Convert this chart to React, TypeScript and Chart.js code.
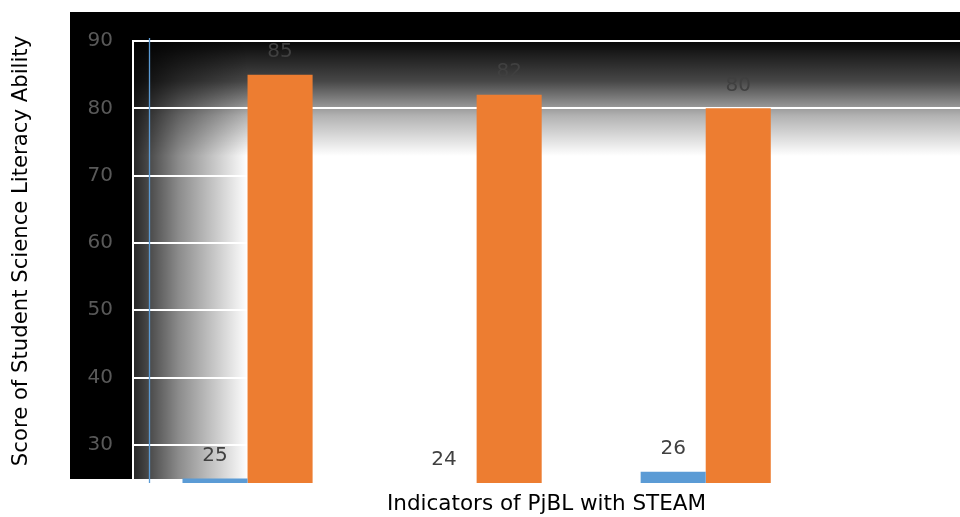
import React, { useEffect, useRef } from "react";
import { Chart, registerables } from "chart.js";

Chart.register(...registerables);

const categories = ["Indicator 1", "Indicator 2", "Indicator 3"];
const seriesA = [25, 24, 26];
const seriesB = [85, 82, 80];
const yTicks = [30, 40, 50, 60, 70, 80, 90];
const xSlots = [1, 2, 3, 4];
const yMin = 24.33;
const yMax = 90;
const xMin = 0.5;
const xMax = 4.11;
const markerX = 0.57;
const yTitle = "Score of Student Science Literacy Ability";
const xTitle = "Indicators of PjBL with STEAM";

const FONT = "'DejaVu Sans', Verdana, sans-serif";

const bgPlugin = {
  id: "bgPlugin",
  beforeDraw(chart: any) {
    const { ctx, chartArea, width } = chart;
    const { left, top, bottom, right } = chartArea;
    ctx.save();
    ctx.fillStyle = "#000";
    ctx.fillRect(left - 63, top - 29, width - (left - 63), bottom - 4 - (top - 29));
    const ph = bottom - 4 - top;
    ctx.fillStyle = "#fff";
    ctx.fillRect(left, top, right - left, ph);
    const vg = ctx.createLinearGradient(0, top, 0, top + 115);
    vg.addColorStop(0, "rgba(0,0,0,0.97)");
    vg.addColorStop(0.35, "rgba(0,0,0,0.72)");
    vg.addColorStop(0.65, "rgba(0,0,0,0.3)");
    vg.addColorStop(1, "rgba(0,0,0,0)");
    ctx.fillStyle = vg;
    ctx.fillRect(left, top, right - left, 115);
    const hg = ctx.createLinearGradient(left, 0, left + 115, 0);
    hg.addColorStop(0, "rgba(0,0,0,0.85)");
    hg.addColorStop(0.4, "rgba(0,0,0,0.45)");
    hg.addColorStop(1, "rgba(0,0,0,0)");
    ctx.fillStyle = hg;
    ctx.fillRect(left, top, 115, ph);
    ctx.restore();
  },
  afterDraw(chart: any) {
    const { ctx, chartArea } = chart;
    ctx.save();
    ctx.font = `21.2px ${FONT}`;
    ctx.fillStyle = "#000";
    ctx.textAlign = "center";
    ctx.textBaseline = "middle";
    ctx.translate(21, (chartArea.top + chartArea.bottom) / 2 - 11);
    ctx.rotate(-Math.PI / 2);
    ctx.fillText(yTitle, 0, 0);
    ctx.restore();
  },
};

const labelPlugin = {
  id: "labelPlugin",
  afterDatasetsDraw(chart: any) {
    const { ctx, chartArea } = chart;
    ctx.save();
    ctx.font = `20px ${FONT}`;
    ctx.fillStyle = "#404040";
    ctx.textAlign = "center";
    ctx.textBaseline = "middle";
    chart.data.datasets.forEach((ds: any, di: number) => {
      const meta = chart.getDatasetMeta(di);
      meta.data.forEach((bar: any, i: number) => {
        const y = Math.min(bar.y, chartArea.bottom) - 23;
        ctx.fillText(String(ds.data[i].y), bar.x, y);
      });
    });
    const xs = chart.scales.x;
    const px = Math.round(xs.getPixelForValue(markerX)) + 0.5;
    ctx.strokeStyle = "#5B9BD5";
    ctx.lineWidth = 1.3;
    ctx.beginPath();
    ctx.moveTo(px, chartArea.top - 3);
    ctx.lineTo(px, chartArea.bottom);
    ctx.stroke();
    ctx.restore();
  },
};

export default function App() {
  const ref = useRef<HTMLCanvasElement>(null);
  useEffect(() => {
    if (!ref.current) return;
    const chart = new Chart(ref.current, {
      type: "bar",
      data: {
        datasets: [
          {
            label: "Series 1",
            data: seriesA.map((v, i) => ({ x: i + 1, y: v })),
            backgroundColor: "#5B9BD5",
          },
          {
            label: "Series 2",
            data: seriesB.map((v, i) => ({ x: i + 1, y: v })),
            backgroundColor: "#ED7D31",
          },
        ],
      },
      options: {
        animation: false,
        responsive: false,
        maintainAspectRatio: false,
        layout: { padding: { left: 8, top: 41, right: 0, bottom: 0 } },
        datasets: { bar: { categoryPercentage: 0.568, barPercentage: 1 } },
        plugins: { legend: { display: false }, tooltip: { enabled: false } },
        scales: {
          x: {
            type: "linear",
            min: xMin,
            max: xMax,
            offset: false,
            afterBuildTicks(scale: any) {
              scale.ticks = xSlots.map((v) => ({ value: v }));
            },
            ticks: { display: false },
            grid: { display: false },
            border: { display: false },
            title: {
              display: true,
              text: xTitle,
              color: "#000",
              font: { family: FONT, size: 21.5 },
              padding: { top: 4, bottom: 0 },
            },
            afterFit(scale: any) {
              scale.height = 34;
            },
          },
          y: {
            min: yMin,
            max: yMax,
            afterBuildTicks(scale: any) {
              scale.ticks = yTicks.map((v) => ({ value: v }));
            },
            ticks: {
              color: "#595959",
              font: { family: FONT, size: 20 },
              padding: 20,
            },
            grid: { color: "#ffffff", lineWidth: 2, drawTicks: false },
            border: { display: true, color: "#ffffff", width: 2 },
            title: { display: false },
            afterFit(scale: any) {
              scale.width = 125;
            },
          },
        },
      },
      plugins: [bgPlugin, labelPlugin],
    });
    return () => chart.destroy();
  }, []);
  return (
    <div style={{ position: "absolute", left: 0, top: 0, width: 960, height: 517, background: "#fff" }}>
      <canvas ref={ref} width={960} height={517} />
    </div>
  );
}
